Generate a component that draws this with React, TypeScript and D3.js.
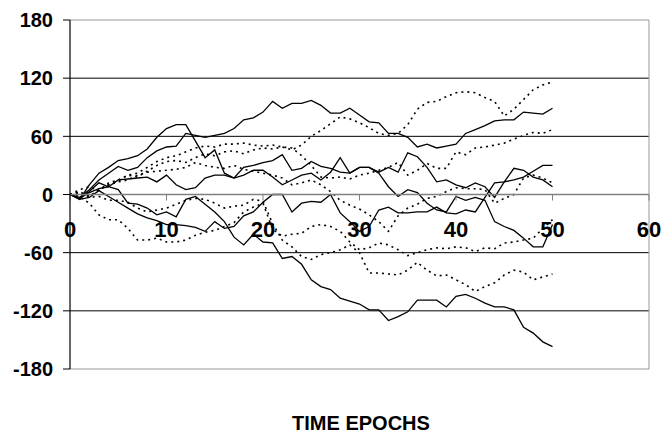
import React, { useEffect, useRef } from 'react';
import * as d3 from 'd3';

// time epoch 0..50, one value per epoch
const solidA = [0,-3,5,15,22,29,25,28,38,45, 49,50,63,61,59,61,63,68,77,79, 85,96,89,94,94,97,92,84,84,89, 82,75,74,63,63,59,49,52,48,50, 52,63,67,71,76,77,77,85,84,83, 89];
const solidB = [0,-5,10,22,28,35,37,40,47,59, 68,72,72,55,38,46,22,17,28,30, 33,35,41,25,27,34,29,27,23,22, 28,28,22,8,-2,5,2,-9,-16,-18, -2,-6,-3,-6,-28,-33,-37,-45,-54,-54, -31];
const solidM = [0,-4,3,12,8,15,16,17,18,13, 20,10,5,7,17,20,20,17,20,25, 25,18,10,15,20,22,15,23,38,22, 28,28,23,28,23,43,39,28,13,15, 10,7,12,8,-3,13,27,25,18,15, 8];
const solidX = [0,-5,-3,4,-2,-8,-14,-20,-24,-27, -31,-31,-32,-34,-38,-28,-35,-33,-22,-18, -8,0,0,-18,-9,-7,-8,0,-19,-28, -38,-33,-16,-13,-19,-19,-18,-18,-13,-19, -20,-16,-18,-3,12,13,15,18,24,30, 30];
const solidC = [0,-4,2,6,8,5,-9,-10,-14,-21, -18,-23,-5,-2,-10,-18,-28,-44,-52,-41, -49,-50,-66,-64,-72,-88,-95,-98,-107,-110, -113,-119,-119,-130,-126,-121,-109,-109,-109,-116, -105,-103,-107,-112,-116,-116,-119,-137,-143,-152, -157];
const dotted1 = [0,5,8,4,12,15,20,18,24,30, 34,35,33,38,42,40,44,45,42,46, 48,47,49,46,51,60,66,73,80,78, 74,69,63,61,63,72,88,95,96,101, 105,106,105,100,96,81,88,98,108,113, 116];
const dotted2 = [0,2,-2,5,10,14,20,22,28,34, 38,40,44,48,50,49,52,52,53,51, 50,51,49,48,40,30,18,17,18,16, 20,22,25,28,33,20,25,32,27,27, 44,41,48,49,51,53,57,61,64,63, 67];
const dotted3 = [0,3,-2,5,10,13,15,20,23,24, 25,26,28,33,30,28,27,30,26,24, 22,20,17,10,12,15,10,3,-6,-11, -15,-21,-28,-38,-22,-14,-10,-4,-2,3, 7,6,6,5,-9,-4,0,17,20,17, 12];
const dotted4 = [0,-2,-9,-21,-26,-26,-35,-47,-47,-45, -49,-49,-47,-42,-39,-37,-33,-29,-18,-13, -9,-36,-43,-41,-40,-33,-31,-33,-38,-49, -57,-55,-50,-52,-57,-63,-60,-57,-55,-56, -54,-55,-59,-55,-56,-50,-49,-47,-45,-35, -26];
const dotted5 = [0,2,-3,-2,-6,-6,-8,-14,-18,-16, -14,-10,-6,-4,-5,-9,-14,-12,-11,-5, -7,-30,-47,-54,-64,-67,-62,-60,-57,-52, -60,-81,-81,-82,-83,-78,-70,-78,-84,-83, -88,-93,-100,-95,-91,-83,-78,-80,-88,-85, -82];

const solidSeries = [solidA, solidB, solidM, solidX, solidC];
const dottedSeries = [dotted1, dotted2, dotted3, dotted4, dotted5];

const xTicks = [0, 10, 20, 30, 40, 50, 60];
const yTicks = [-180, -120, -60, 0, 60, 120, 180];
const xTitle = 'TIME EPOCHS';

const WIDTH = 662;
const HEIGHT = 433;
const FONT = '"Liberation Sans", Arial, sans-serif';

export default function App() {
  const svgRef = useRef<SVGSVGElement>(null);

  useEffect(() => {
    if (!svgRef.current) return;
    const svg = d3.select(svgRef.current);
    svg.selectAll('*').remove();

    const x = d3.scaleLinear().domain([0, 60]).range([70, 649]);
    const y = d3.scaleLinear().domain([-180, 180]).range([369, 20]);

    // gridlines
    svg.append('g')
      .selectAll('line')
      .data(yTicks.filter(t => t !== 0))
      .enter()
      .append('line')
      .attr('x1', x(0))
      .attr('x2', x(60))
      .attr('y1', d => y(d))
      .attr('y2', d => y(d))
      .attr('stroke', d => (Math.abs(d) === 180 ? '#999' : '#000'))
      .attr('stroke-width', 1);

    // plot border right
    svg.append('line')
      .attr('x1', x(60)).attr('x2', x(60))
      .attr('y1', y(180)).attr('y2', y(-180))
      .attr('stroke', '#999');

    const line = d3.line<number>()
      .x((d, i) => x(i))
      .y(d => y(d));

    dottedSeries.forEach(s => {
      svg.append('path')
        .datum(s)
        .attr('fill', 'none')
        .attr('stroke', '#000')
        .attr('stroke-width', 1.6)
        .attr('stroke-dasharray', '2,4')
        .attr('d', line);
    });

    solidSeries.forEach(s => {
      svg.append('path')
        .datum(s)
        .attr('fill', 'none')
        .attr('stroke', '#000')
        .attr('stroke-width', 1.3)
        .attr('stroke-linejoin', 'miter')
        .attr('d', line);
    });

    // x axis at zero
    svg.append('line')
      .attr('x1', x(0)).attr('x2', x(60))
      .attr('y1', y(0)).attr('y2', y(0))
      .attr('stroke', '#808080')
      .attr('stroke-width', 1.5);

    svg.append('g')
      .selectAll('line')
      .data(xTicks)
      .enter()
      .append('line')
      .attr('x1', d => x(d)).attr('x2', d => x(d))
      .attr('y1', y(0)).attr('y2', y(0) + 6)
      .attr('stroke', '#808080');

    // y axis
    svg.append('line')
      .attr('x1', x(0)).attr('x2', x(0))
      .attr('y1', y(180)).attr('y2', y(-180))
      .attr('stroke', '#000')
      .attr('stroke-width', 1.2);

    svg.append('g')
      .selectAll('line')
      .data(yTicks)
      .enter()
      .append('line')
      .attr('x1', x(0) - 7).attr('x2', x(0))
      .attr('y1', d => y(d)).attr('y2', d => y(d))
      .attr('stroke', '#000');

    svg.append('g')
      .selectAll('text')
      .data(yTicks)
      .enter()
      .append('text')
      .attr('x', 53)
      .attr('y', d => y(d))
      .attr('dy', '0.36em')
      .attr('text-anchor', 'end')
      .attr('font-family', FONT)
      .attr('font-weight', 'bold')
      .attr('font-size', 20)
      .text(d => d);

    svg.append('g')
      .selectAll('text')
      .data(xTicks)
      .enter()
      .append('text')
      .attr('x', d => x(d))
      .attr('y', y(0) + 42)
      .attr('text-anchor', 'middle')
      .attr('font-family', FONT)
      .attr('font-weight', 'bold')
      .attr('font-size', 22)
      .text(d => d);

    svg.append('text')
      .attr('x', 361)
      .attr('y', 430)
      .attr('text-anchor', 'middle')
      .attr('font-family', FONT)
      .attr('font-weight', 'bold')
      .attr('font-size', 20)
      .text(xTitle);
  }, []);

  return (
    <svg
      ref={svgRef}
      width={WIDTH}
      height={HEIGHT}
      style={{ position: 'absolute', left: 0, top: 0, background: '#fff' }}
    />
  );
}
